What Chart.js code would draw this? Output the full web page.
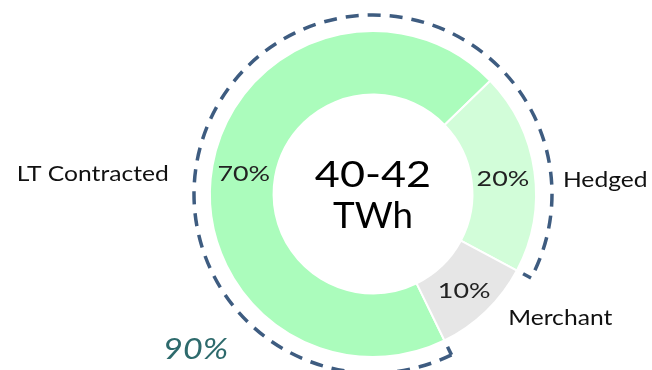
<!DOCTYPE html>
<html>
<head>
<meta charset="utf-8">
<script src="https://cdn.jsdelivr.net/npm/chart.js@4.4.0/dist/chart.umd.min.js"></script>
<style>
  html, body { margin: 0; padding: 0; background: #fff; }
</style>
</head>
<body>
<canvas id="myChart" width="652" height="370"></canvas>
<script>
// --- DATA ---
const categories = ["LT Contracted", "Hedged", "Merchant"];
const shares = [70, 20, 10];
const shareLabels = ["70%", "20%", "10%"];
const sliceColors = ["#abfcbc", "#d2fdd9", "#e6e6e6"];
const centerLines = ["40-42", "TWh"];
const bracketText = "90%";
const bracketSlices = 2; // LT Contracted + Hedged sit under the dashed bracket
// ----------------

// --- draw text stretched a bit wider (the original font is wider than Lato) ---
function drawText(ctx, text, x, y, align, stretch) {
  ctx.save();
  ctx.translate(x, y);
  ctx.scale(stretch, 1);
  ctx.textAlign = align;
  ctx.textBaseline = "middle";
  ctx.fillText(text, 0, 0);
  ctx.restore();
}

// --- CENTER TEXT ---
const centerText = {
  id: "centerText",
  afterDatasetsDraw(chart) {
    const { ctx } = chart;
    const arc = chart.getDatasetMeta(0).data[0];
    ctx.save();
    ctx.fillStyle = "#000";
    ctx.font = "36px Lato";
    drawText(ctx, centerLines[0], arc.x, arc.y - 19, "center", 1.2);
    drawText(ctx, centerLines[1], arc.x, arc.y + 22, "center", 1.02);
    ctx.restore();
  },
};

// --- DASHED BRACKET AROUND THE HEDGED PART ---
const bracket = {
  id: "bracket",
  afterDatasetsDraw(chart, args, opts) {
    const { ctx } = chart;
    const meta = chart.getDatasetMeta(0);
    const first = meta.data[0];
    const last = meta.data[bracketSlices - 1];
    const r = first.outerRadius + opts.gap;
    const a0 = first.startAngle;
    const a1 = last.endAngle;
    ctx.save();
    ctx.strokeStyle = opts.color;
    ctx.lineWidth = opts.width;
    ctx.setLineDash(opts.dash);
    ctx.beginPath();
    ctx.arc(first.x, first.y, r, a0, a1);
    ctx.stroke();
    // little hooks at both ends
    ctx.setLineDash([]);
    [a0, a1].forEach((a) => {
      ctx.beginPath();
      ctx.moveTo(first.x + Math.cos(a) * r, first.y + Math.sin(a) * r);
      ctx.lineTo(first.x + Math.cos(a) * (r - opts.hook), first.y + Math.sin(a) * (r - opts.hook));
      ctx.stroke();
    });
    // 90% label, bottom left of the bracket
    const la = opts.labelAngle * Math.PI / 180 - Math.PI / 2;
    const lr = r + opts.labelDist;
    ctx.fillStyle = opts.labelColor;
    ctx.font = "italic 28px Lato";
    drawText(ctx, bracketText, first.x + Math.cos(la) * lr, first.y + Math.sin(la) * lr + 2, "center", 1.22);
    ctx.restore();
  },
};

// --- SLICE LABELS ---
const sliceLabels = {
  id: "sliceLabels",
  afterDatasetsDraw(chart, args, opts) {
    const { ctx } = chart;
    const meta = chart.getDatasetMeta(0);
    ctx.save();
    meta.data.forEach((el, i) => {
      const p = el.tooltipPosition();
      ctx.fillStyle = "#222";
      ctx.font = "22px Lato";
      drawText(ctx, shareLabels[i], p.x, p.y + 3, "center", 1.22);
      const o = opts.offsets[i];
      ctx.fillStyle = "#111";
      drawText(ctx, categories[i], p.x + o.dx, p.y + o.dy, o.align, 1.12);
    });
    ctx.restore();
  },
};

const config = {
  type: "doughnut",
  data: {
    labels: categories,
    datasets: [
      {
        data: shares,
        backgroundColor: sliceColors,
        borderColor: "#ffffff",
        borderWidth: 2,
      },
    ],
  },
  options: {
    responsive: false,
    animation: false,
    devicePixelRatio: 1,
    rotation: 154,
    cutout: "61%",
    layout: { padding: { top: 29, bottom: 11, left: 209, right: 115 } },
    plugins: {
      legend: { display: false },
      tooltip: { enabled: false },
      bracket: {
        gap: 16,
        width: 3.5,
        dash: [13, 9],
        hook: 9,
        color: "#3e5c80",
        labelColor: "#2d6a6c",
        labelAngle: 229,
        labelDist: 56,
      },
      sliceLabels: {
        offsets: [
          { dx: -75, dy: 3, align: "right" },
          { dx: 60, dy: 4, align: "left" },
          { dx: 44, dy: 30, align: "left" },
        ],
      },
    },
  },
  plugins: [centerText, bracket, sliceLabels],
};

const myChart = new Chart(document.getElementById("myChart"), config);
</script>
</body>
</html>
